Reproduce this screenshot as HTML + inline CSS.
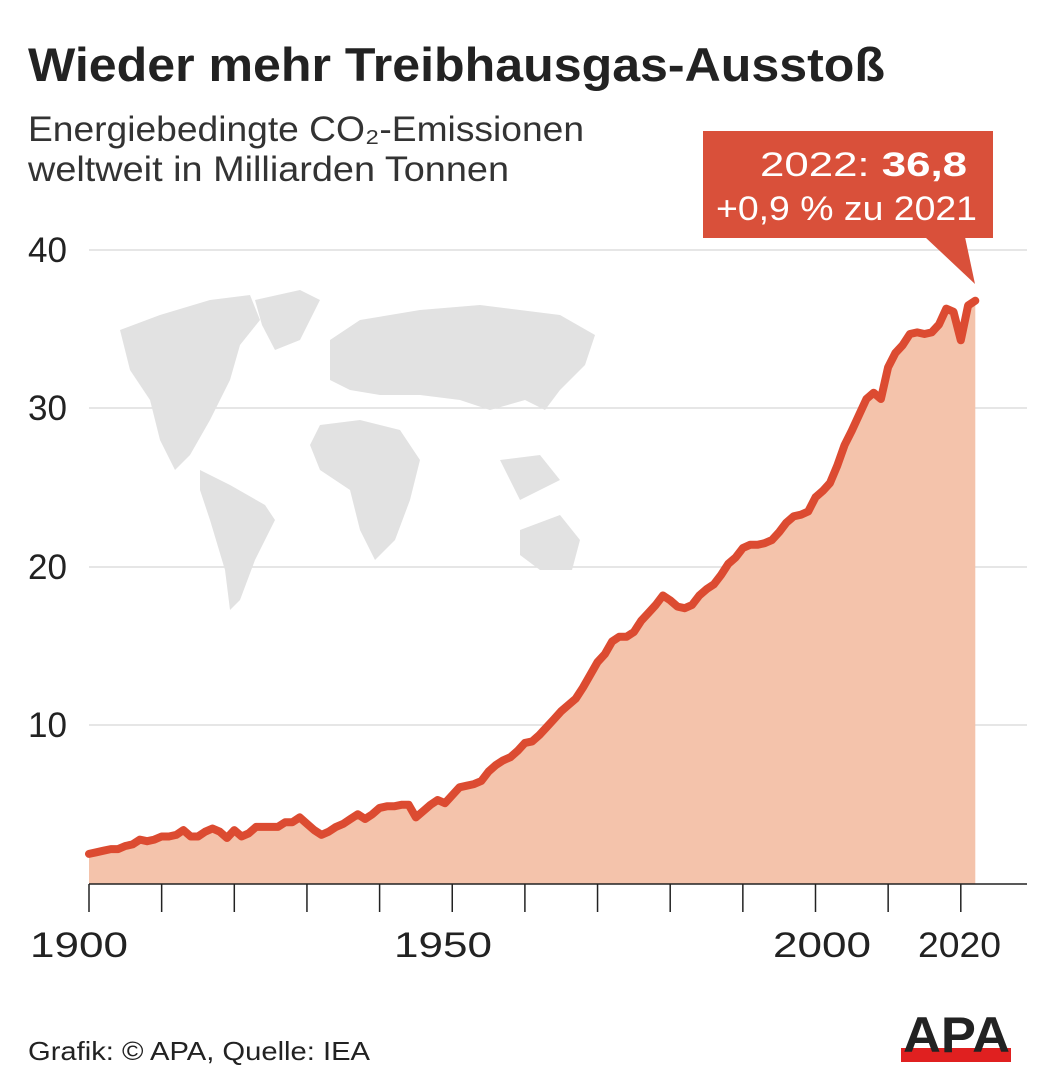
<!DOCTYPE html>
<html><head><meta charset="utf-8"><style>
body{margin:0;background:#fff;width:1041px;height:1087px;overflow:hidden;font-family:"Liberation Sans",sans-serif}
</style></head><body>
<svg id="s" width="1041" height="1087" xmlns="http://www.w3.org/2000/svg" font-family="Liberation Sans, sans-serif">
<text x="28" y="81" font-size="47" font-weight="bold" fill="#222" textLength="857" lengthAdjust="spacingAndGlyphs">Wieder mehr Treibhausgas-Ausstoß</text>
<text x="28" y="141" font-size="35" fill="#333" textLength="556" lengthAdjust="spacingAndGlyphs">Energiebedingte CO₂-Emissionen</text>
<text x="28" y="181" font-size="35" fill="#333" textLength="481" lengthAdjust="spacingAndGlyphs">weltweit in Milliarden Tonnen</text>
<g stroke="#ddd" stroke-width="1.5">
<line x1="89" y1="250" x2="1027" y2="250"/><line x1="89" y1="408" x2="1027" y2="408"/>
<line x1="89" y1="567" x2="1027" y2="567"/><line x1="89" y1="725" x2="1027" y2="725"/>
</g>
<g font-size="35" fill="#222">
<text x="28" y="262" textLength="39" lengthAdjust="spacingAndGlyphs">40</text><text x="28" y="420" textLength="39" lengthAdjust="spacingAndGlyphs">30</text><text x="28" y="579" textLength="39" lengthAdjust="spacingAndGlyphs">20</text><text x="28" y="737" textLength="39" lengthAdjust="spacingAndGlyphs">10</text>
</g>
<g fill="#e2e2e2">
<path d="M120 330 L160 315 L210 300 L250 295 L260 320 L240 345 L230 380 L210 420 L190 455 L175 470 L160 440 L150 400 L130 370 Z"/>
<path d="M255 300 L300 290 L320 300 L300 340 L275 350 L262 325 Z"/>
<path d="M200 470 L230 485 L265 505 L275 520 L255 560 L240 600 L230 610 L225 570 L210 520 L200 490 Z"/>
<path d="M330 340 L360 320 L420 310 L480 305 L560 315 L595 335 L585 365 L560 390 L545 410 L525 400 L490 410 L460 400 L420 395 L380 395 L350 390 L330 380 Z"/>
<path d="M320 425 L360 420 L400 430 L420 460 L410 500 L395 540 L375 560 L360 530 L350 490 L320 470 L310 445 Z"/>
<path d="M520 530 L560 515 L580 540 L572 570 L540 570 L520 555 Z"/>
<path d="M500 460 L540 455 L560 480 L520 500 Z"/>
</g>
<path id="area" fill="#f4c3ab"/>
<path id="line" fill="none" stroke="#dc4b31" stroke-width="8" stroke-linejoin="round" stroke-linecap="round"/>
<line x1="89" y1="884" x2="1027" y2="884" stroke="#222" stroke-width="1.5"/>
<g id="ticks" stroke="#222" stroke-width="1.5"></g>
<g font-size="35" fill="#222">
<text x="30" y="957" textLength="98" lengthAdjust="spacingAndGlyphs">1900</text><text x="394" y="957" textLength="98" lengthAdjust="spacingAndGlyphs">1950</text><text x="773" y="957" textLength="98" lengthAdjust="spacingAndGlyphs">2000</text><text x="918" y="957" textLength="83" lengthAdjust="spacingAndGlyphs">2020</text>
</g>
<rect x="703" y="131" width="290" height="107" fill="#d9503a"/>
<path d="M925 237 L975 284 L965 237 Z" fill="#d9503a"/>
<text x="760" y="176" font-size="34" fill="#fff" textLength="207" lengthAdjust="spacingAndGlyphs">2022: <tspan font-weight="bold">36,8</tspan></text>
<text x="716" y="220" font-size="34" fill="#fff" textLength="261" lengthAdjust="spacingAndGlyphs">+0,9 % zu 2021</text>
<text x="28" y="1060" font-size="26" fill="#222" textLength="342" lengthAdjust="spacingAndGlyphs">Grafik: © APA, Quelle: IEA</text>
<rect x="901" y="1048" width="110" height="14" fill="#e02020"/>
<text x="903" y="1052" font-size="50" font-weight="bold" fill="#222" textLength="107" lengthAdjust="spacingAndGlyphs">APA</text>
</svg>
<script>
var d=[1.9,2.0,2.1,2.2,2.2,2.4,2.5,2.8,2.7,2.8,3.0,3.0,3.1,3.4,3.0,3.0,3.3,3.5,3.3,2.9,3.4,3.0,3.2,3.6,3.6,3.6,3.6,3.9,3.9,4.2,3.8,3.4,3.1,3.3,3.6,3.8,4.1,4.4,4.1,4.4,4.8,4.9,4.9,5.0,5.0,4.2,4.6,5.0,5.3,5.1,5.6,6.1,6.2,6.3,6.5,7.1,7.5,7.8,8.0,8.4,8.9,9.0,9.4,9.9,10.4,10.9,11.3,11.7,12.4,13.2,14.0,14.5,15.3,15.6,15.6,15.9,16.6,17.1,17.6,18.2,17.9,17.5,17.4,17.6,18.2,18.6,18.9,19.5,20.2,20.6,21.2,21.4,21.4,21.5,21.7,22.2,22.8,23.2,23.3,23.5,24.4,24.8,25.3,26.4,27.7,28.6,29.6,30.6,31.0,30.6,32.6,33.5,34.0,34.7,34.8,34.7,34.8,35.3,36.3,36.1,34.3,36.5,36.8];
var p=[];for(var i=0;i<d.length;i++){p.push((89+i*7.265).toFixed(1)+" "+(884-d[i]*15.85).toFixed(1));}
document.getElementById('line').setAttribute('d','M'+p.join(' L'));
document.getElementById('area').setAttribute('d','M89 884 L'+p.join(' L')+' L'+(89+(d.length-1)*7.265).toFixed(1)+' 884 Z');
var t='';for(var y=1900;y<=2020;y+=10){var x=89+(y-1900)*7.265;t+='<line x1="'+x+'" y1="884" x2="'+x+'" y2="912"/>';}
document.getElementById('ticks').innerHTML=t;
</script>
</body></html>
